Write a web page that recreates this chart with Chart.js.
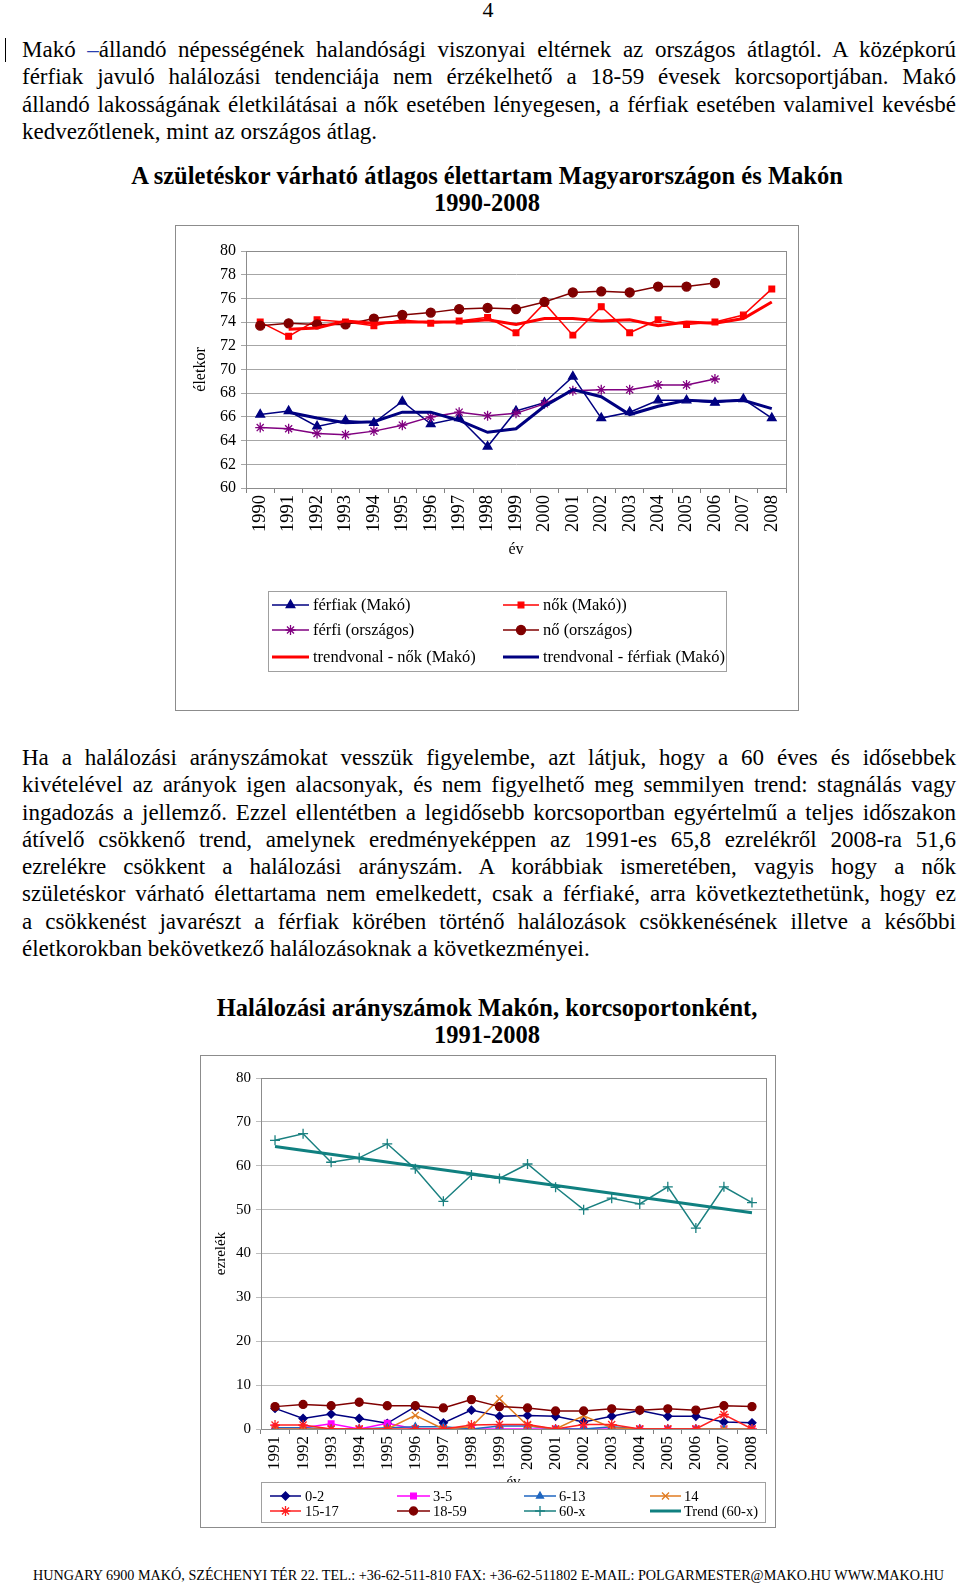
<!DOCTYPE html>
<html lang="hu">
<head>
<meta charset="UTF-8">
<title>Makó – élettartam és halálozási arányszámok</title>
<script src="https://cdn.jsdelivr.net/npm/chart.js"></script>
<style>
  body { margin: 0; background: #fff; font-family: 'Liberation Serif', 'Times New Roman', serif; color: #000; }
  #page { position: relative; width: 960px; height: 1587px; overflow: hidden; }
  .abs { position: absolute; }
  .para { left: 22px; width: 934px; font-size: 23px; }
  .ln { height: 27.3px; line-height: 27.3px; white-space: nowrap; }
  .title { left: 0; width: 974px; text-align: center; font-weight: bold; font-size: 24.5px; line-height: 27px; }
  .frame { border: 1px solid #8c8c8c; box-sizing: border-box; }
  canvas { position: absolute; }
</style>
</head>
<body>
<div id="page">
  <div class="abs" style="left:478px;top:0;width:20px;text-align:center;font-size:22px;line-height:20px;">4</div>
  <div class="abs" style="left:5px;top:38px;width:1px;height:24px;background:#000;"></div>

  <div class="abs para" style="top:36px;">
    <div class="ln j"><span>Makó <span style="color:#2a3fb0">–</span>állandó népességének halandósági viszonyai eltérnek az országos átlagtól. A középkorú</span></div>
    <div class="ln j"><span>férfiak javuló halálozási tendenciája nem érzékelhető a 18-59 évesek korcsoportjában. Makó</span></div>
    <div class="ln j"><span>állandó lakosságának életkilátásai a nők esetében lényegesen, a férfiak esetében valamivel kevésbé</span></div>
    <div class="ln"><span>kedvezőtlenek, mint az országos átlag.</span></div>
  </div>

  <div class="abs title" style="top:162px;">A születéskor várható átlagos élettartam Magyarországon és Makón<br>1990-2008</div>
  <div class="abs frame" style="left:175px;top:225px;width:624px;height:486px;"></div>
  <canvas id="chart1" width="624" height="486" style="left:175px;top:225px;"></canvas>

  <div class="abs para" style="top:744px;">
    <div class="ln j"><span>Ha a halálozási arányszámokat vesszük figyelembe, azt látjuk, hogy a 60 éves és idősebbek</span></div>
    <div class="ln j"><span>kivételével az arányok igen alacsonyak, és nem figyelhető meg semmilyen trend: stagnálás vagy</span></div>
    <div class="ln j"><span>ingadozás a jellemző. Ezzel ellentétben a legidősebb korcsoportban egyértelmű a teljes időszakon</span></div>
    <div class="ln j"><span>átívelő csökkenő trend, amelynek eredményeképpen az 1991-es 65,8 ezrelékről 2008-ra 51,6</span></div>
    <div class="ln j"><span>ezrelékre csökkent a halálozási arányszám. A korábbiak ismeretében, vagyis hogy a nők</span></div>
    <div class="ln j"><span>születéskor várható élettartama nem emelkedett, csak a férfiaké, arra következtethetünk, hogy ez</span></div>
    <div class="ln j"><span>a csökkenést javarészt a férfiak körében történő halálozások csökkenésének illetve a későbbi</span></div>
    <div class="ln"><span>életkorokban bekövetkező halálozásoknak a következményei.</span></div>
  </div>

  <div class="abs title" style="top:994px;">Halálozási arányszámok Makón, korcsoportonként,<br>1991-2008</div>
  <div class="abs frame" style="left:200px;top:1055px;width:576px;height:473px;"></div>
  <canvas id="chart2" width="576" height="473" style="left:200px;top:1055px;"></canvas>

  <div class="abs" style="left:33px;top:1566px;font-size:15px;line-height:18px;white-space:nowrap;">
    <span id="footer" style="display:inline-block;transform-origin:left center;">HUNGARY 6900 MAKÓ, SZÉCHENYI TÉR 22. TEL.: +36-62-511-810 FAX: +36-62-511802 E-MAIL: POLGARMESTER@MAKO.HU WWW.MAKO.HU</span>
  </div>
</div>

<script>
  // chart 1: születéskor várható élettartam
  const years1 = ['1990', '1991', '1992', '1993', '1994', '1995', '1996', '1997', '1998', '1999',
                  '2000', '2001', '2002', '2003', '2004', '2005', '2006', '2007', '2008'];
  const ferfiakMako = [66.2, 66.5, 65.2, 65.7, 65.5, 67.3, 65.4, 65.9, 63.5, 66.5, 67.2, 69.4, 65.9, 66.4, 67.4, 67.4, 67.2, 67.5, 65.9];
  const nokMako = [74.0, 72.8, 74.2, 74.0, 73.7, 74.2, 73.9, 74.1, 74.4, 73.1, 75.6, 72.9, 75.3, 73.1, 74.2, 73.8, 74.0, 74.6, 76.8];
  const ferfiOrszagos = [65.1, 65.0, 64.6, 64.5, 64.8, 65.3, 66.0, 66.4, 66.1, 66.3, 67.1, 68.2, 68.3, 68.3, 68.7, 68.7, 69.2, null, null];
  const noOrszagos = [73.7, 73.9, 73.8, 73.8, 74.3, 74.6, 74.8, 75.1, 75.2, 75.1, 75.7, 76.5, 76.6, 76.5, 77.0, 77.0, 77.3, null, null];
  const trendNokMako = [null, 73.4, 73.5, 74.1, 73.9, 74.0, 74.0, 74.0, 74.2, 73.8, 74.3, 74.3, 74.1, 74.2, 73.7, 74.0, 73.9, 74.3, 75.7];
  const trendFerfiakMako = [null, 66.4, 65.9, 65.5, 65.6, 66.4, 66.4, 65.7, 64.7, 65.0, 66.9, 68.3, 67.7, 66.2, 66.9, 67.4, 67.3, 67.4, 66.7];

  // chart 2: halálozási arányszámok korcsoportonként
  const years2 = ['1991', '1992', '1993', '1994', '1995', '1996', '1997', '1998', '1999',
                  '2000', '2001', '2002', '2003', '2004', '2005', '2006', '2007', '2008'];
  const kor0_2 = [4.7, 2.4, 3.4, 2.4, 1.3, 5.1, 1.4, 4.3, 2.9, 3.1, 2.9, 1.6, 2.9, 4.2, 2.9, 2.9, 1.6, 1.4];
  const kor3_5 = [0.3, 0.3, 1.2, 0, 1.3, 0, 0, 0, 0, 0, 0, 0, 0, 0, 0, 0, 0, 0];
  const kor6_13 = [0.3, 0.3, 0, 0, 0.3, 0.5, 0.5, 0, 0.7, 0.7, 0, 0, 0.5, 0, 0, 0, 0, 0];
  const kor14 = [0, 0, 0, 0, 0, 3.1, 0, 0.5, 6.9, 0.8, 0, 3.0, 0.3, 0, 0, 0, 0, 0];
  const kor15_17 = [0.9, 0.9, 0, 0, 0, 0, 0, 0.9, 1.0, 1.0, 0, 1.0, 1.0, 0, 0, 0, 3.3, 0];
  const kor18_59 = [5.1, 5.6, 5.3, 6.1, 5.3, 5.3, 4.8, 6.7, 5.1, 4.8, 4.1, 4.1, 4.6, 4.3, 4.6, 4.3, 5.3, 5.1];
  const kor60x = [65.8, 67.3, 60.8, 61.8, 65.0, 59.3, 51.9, 57.9, 57.1, 60.4, 55.1, 50.0, 52.6, 51.3, 55.2, 45.8, 55.2, 51.6];
  const trend60x = [64.4, null, null, null, null, null, null, null, null, null, null, null, null, null, null, null, null, 49.3];

  Chart.defaults.font.family = "'Liberation Serif', 'Times New Roman', serif";
  Chart.defaults.color = '#000';

  function series(label, data, color, style, radius, width) {
    return {
      label, data,
      borderColor: color, backgroundColor: color,
      pointBackgroundColor: color, pointBorderColor: color,
      pointStyle: style, pointRadius: radius, pointBorderWidth: 1.3,
      borderWidth: width, tension: 0, spanGaps: true
    };
  }

  // last series drawn on top, like in the original
  function stackOrder(list) {
    list.forEach((d, i) => { d.order = list.length - i; });
    return list;
  }

  const plotFrame = {
    id: 'plotFrame',
    beforeDatasetsDraw(chart) {
      const { left, top, right, bottom } = chart.chartArea;
      const ctx = chart.ctx;
      ctx.save();
      ctx.strokeStyle = '#8c8c8c';
      ctx.lineWidth = 1;
      ctx.strokeRect(Math.round(left) + 0.5, Math.round(top) + 0.5, Math.round(right - left), Math.round(bottom - top));
      ctx.restore();
    }
  };

  function drawMarker(ctx, ds, x, y) {
    if (!ds.pointRadius) return;
    ctx.fillStyle = ds.pointBackgroundColor;
    ctx.strokeStyle = ds.pointBorderColor;
    ctx.lineWidth = ds.pointBorderWidth;
    Chart.helpers.drawPoint(ctx, { pointStyle: ds.pointStyle, radius: ds.pointRadius, borderWidth: ds.pointBorderWidth, rotation: 0 }, x, y);
  }

  function boxLegend(box) {
    return {
      id: 'boxLegend',
      afterDraw(chart) {
        const ctx = chart.ctx;
        ctx.save();
        ctx.fillStyle = '#fff';
        ctx.fillRect(box.x, box.y, box.w, box.h);
        ctx.strokeStyle = '#a0a0a0';
        ctx.lineWidth = 1;
        ctx.strokeRect(box.x + 0.5, box.y + 0.5, box.w, box.h);
        chart.data.datasets.forEach((ds, i) => {
          const c = box.cols[i % box.cols.length];
          const y = box.rows[Math.floor(i / box.cols.length)];
          ctx.strokeStyle = ds.borderColor;
          ctx.lineWidth = ds.borderWidth;
          ctx.beginPath();
          ctx.moveTo(c[0], y);
          ctx.lineTo(c[1], y);
          ctx.stroke();
          drawMarker(ctx, ds, (c[0] + c[1]) / 2, y);
          ctx.fillStyle = '#000';
          ctx.font = box.font;
          ctx.textBaseline = 'middle';
          ctx.fillText(ds.label, c[2], y + 1);
        });
        ctx.restore();
      }
    };
  }

  function options(o) {
    return {
      responsive: false,
      animation: false,
      events: [],
      layout: { padding: o.padding },
      plugins: { legend: { display: false }, tooltip: { enabled: false } },
      scales: {
        x: {
          offset: true,
          grid: { display: true, drawOnChartArea: false, drawTicks: true, tickLength: 5, color: '#808080', offset: true },
          border: { color: '#808080' },
          ticks: { minRotation: 90, maxRotation: 90, autoSkip: false, padding: 2, font: { size: o.xTickSize } },
          title: { display: true, text: 'év', font: { size: o.titleSize }, padding: { top: 0, bottom: 4 } },
          afterFit: s => { s.height = o.xHeight; }
        },
        y: {
          min: o.min, max: o.max,
          ticks: { stepSize: o.step, padding: 5, font: { size: o.tickSize } },
          grid: { color: o.gridColor, tickLength: 5 },
          border: { color: '#808080' },
          title: { display: true, text: o.yTitle, font: { size: o.titleSize }, padding: { top: 4, bottom: 4 } },
          afterFit: s => { s.width = o.yWidth; }
        }
      }
    };
  }

  new Chart(document.getElementById('chart1'), {
    type: 'line',
    data: {
      labels: years1,
      datasets: stackOrder([
        series('férfiak (Makó)', ferfiakMako, '#000080', 'triangle', 5, 1.5),
        series('nők (Makó))', nokMako, '#ff0000', 'rect', 4, 1.5),
        series('férfi (országos)', ferfiOrszagos, '#800080', 'star', 5, 1.5),
        series('nő (országos)', noOrszagos, '#800000', 'circle', 4.5, 1.5),
        series('trendvonal - nők (Makó)', trendNokMako, '#ff0000', 'circle', 0, 3),
        series('trendvonal - férfiak (Makó)', trendFerfiakMako, '#000080', 'circle', 0, 3)
      ])
    },
    options: options({
      padding: { left: 12, top: 26, right: 13, bottom: 148 },
      yWidth: 59, xHeight: 75, min: 60, max: 80, step: 2,
      tickSize: 16, xTickSize: 18.5, titleSize: 16, gridColor: '#a6a6a6', yTitle: 'életkor'
    }),
    plugins: [plotFrame, boxLegend({
      x: 93, y: 366, w: 458, h: 80,
      rows: [380, 405, 432],
      cols: [[97, 134, 138], [328, 364, 368]],
      font: "16.5px 'Liberation Serif'"
    })]
  });

  new Chart(document.getElementById('chart2'), {
    type: 'line',
    data: {
      labels: years2,
      datasets: stackOrder([
        series('0-2', kor0_2, '#000080', 'rectRot', 4, 1.5),
        series('3-5', kor3_5, '#ff00ff', 'rect', 4, 1.5),
        series('6-13', kor6_13, '#1f66c0', 'triangle', 4, 1.5),
        series('14', kor14, '#e07b20', 'crossRot', 5, 1.5),
        series('15-17', kor15_17, '#ff2020', 'star', 5, 1.5),
        series('18-59', kor18_59, '#800000', 'circle', 4, 1.5),
        series('60-x', kor60x, '#1a8080', 'cross', 5, 1.5),
        series('Trend (60-x)', trend60x, '#108080', 'circle', 0, 3)
      ])
    },
    options: options({
      padding: { left: 8, top: 23, right: 10, bottom: 33 },
      yWidth: 53, xHeight: 66, min: 0, max: 80, step: 10,
      tickSize: 15, xTickSize: 17, titleSize: 15, gridColor: '#bdbdbd', yTitle: 'ezrelék'
    }),
    plugins: [plotFrame, boxLegend({
      x: 61, y: 427, w: 504, h: 40,
      rows: [441, 456],
      cols: [[70, 101, 105], [197, 230, 233], [324, 356, 359], [450, 481, 484]],
      font: "14.5px 'Liberation Serif'"
    })]
  });

  // justify the text lines to the full measure
  document.querySelectorAll('.ln.j > span').forEach(s => {
    const w = s.getBoundingClientRect().width;
    const n = (s.textContent.match(/ /g) || []).length;
    if (n) s.style.wordSpacing = ((934 - w) / n) + 'px';
  });
  const foot = document.getElementById('footer');
  foot.style.transform = 'scaleX(' + (911 / foot.getBoundingClientRect().width) + ')';
</script>
</body>
</html>
